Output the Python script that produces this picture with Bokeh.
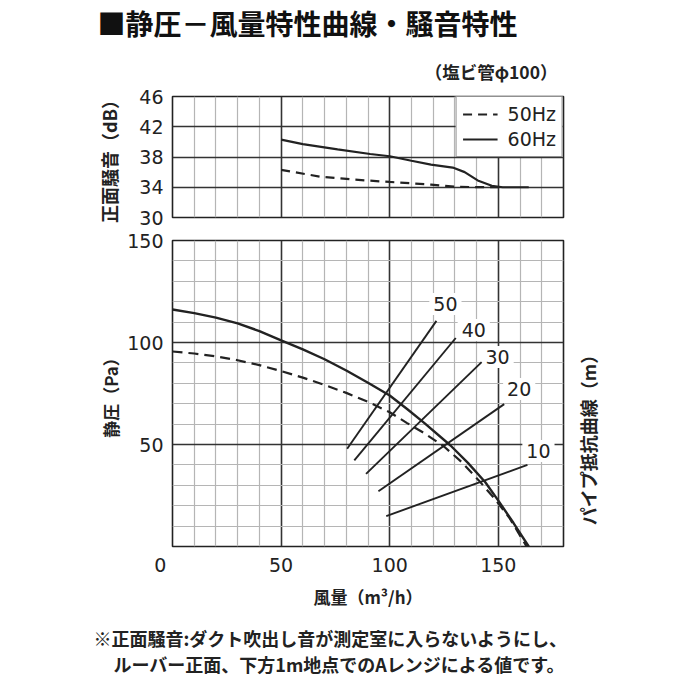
import math
from bokeh.plotting import figure
from bokeh.models import Range1d, FixedTicker, Legend, LegendItem
from bokeh.layouts import column, row
from bokeh.embed import file_html
from bokeh.resources import INLINE
from bokeh.core.properties import value

# ---------------- data ----------------
TITLE = "■静圧－風量特性曲線・騒音特性"
SUBTITLE = "（塩ビ管φ100）"
NOTE_1 = "※正面騒音:ダクト吹出し音が測定室に入らないようにし、"
NOTE_2 = "ルーバー正面、下方1m地点でのAレンジによる値です。"
RIGHT_LABEL = "パイプ抵抗曲線（m）"

# noise (dB) vs airflow (m3/h)
NOISE_X_60 = [50, 60, 76, 91, 100, 110, 119, 129, 134.5, 140.5, 147, 152, 164]
NOISE_DB_60 = [40.3, 39.7, 39.0, 38.4, 38.1, 37.5, 37.0, 36.6, 36.0, 34.9, 34.2, 34.0, 34.0]
NOISE_X_50 = [50, 68, 84, 100, 119, 131, 150]
NOISE_DB_50 = [36.3, 35.4, 35.0, 34.7, 34.35, 34.05, 34.0]

# static pressure (Pa) vs airflow (m3/h)
PQ_X_60 = [0, 10, 20, 30, 40, 50, 60, 70, 80, 90, 100, 108, 116, 128, 136, 144, 150, 157, 164]
PQ_PA_60 = [116.2, 114.4, 112.2, 109.4, 105.6, 101.0, 96.6, 91.8, 86.3, 80.3, 74.0,
            67.4, 60.5, 49.5, 41.0, 31.5, 22.5, 11.5, 0]
PQ_X_50 = [0, 10, 20, 30, 40, 50, 60, 70, 80, 90, 100, 108, 116, 125, 133, 141, 148, 155, 163]
PQ_PA_50 = [95.6, 94.6, 93.2, 91.3, 88.9, 86.0, 82.8, 79.2, 75.3, 70.9, 65.8,
            60.5, 55.5, 49.0, 41.5, 32.4, 23.8, 14.2, 0]

# pipe resistance curves (m)
PIPE_M = ["50", "40", "30", "20", "10"]
PIPE_X0 = [80.4, 83.7, 89.1, 94.8, 98.4]
PIPE_Y0 = [47.9, 42.2, 35.6, 27.1, 14.9]
PIPE_X1 = [121.5, 130.4, 142.3, 152.7, 163.4]
PIPE_Y1 = [110.6, 102.2, 90.4, 69.8, 40.0]

X_TICKS = [0, 50, 100, 150]
DB_TICKS = [30, 34, 38, 42, 46]
PA_TICKS = [50, 100, 150]

# ---------------- styles ----------------
LABEL_DX = [9, 18, 16, 15, 11]
LABEL_DY = [-17, -8, -5, -15, -14]
INK = "#222222"
MAJOR = "#333333"
MINOR = "#b5b5b5"
JP = "Noto Sans CJK JP"
NUM = "DejaVu Sans"
FIG_W = 640
LEFT = 172
FRAME_W = 391

x_major = [0, 50, 100, 150]
x_minor = [v for v in range(10, 180, 10) if v % 50]


def style_axis(ax):
    ax.axis_line_color = None
    ax.major_tick_line_color = None
    ax.minor_tick_line_color = None
    ax.major_tick_out = 0
    ax.major_tick_in = 0
    ax.minor_tick_out = 0
    ax.minor_tick_in = 0
    ax.major_label_text_font = NUM
    ax.major_label_text_font_size = "19px"
    ax.major_label_text_color = INK
    ax.axis_label_text_font = JP
    ax.axis_label_text_font_style = "bold"
    ax.axis_label_text_color = INK


def style_frame(p):
    p.outline_line_color = INK
    p.outline_line_width = 1.6
    p.outline_line_alpha = 1
    p.background_fill_color = "white"
    p.border_fill_color = "white"
    p.xgrid.ticker = FixedTicker(ticks=x_major, minor_ticks=x_minor)
    p.xgrid.grid_line_color = MAJOR
    p.xgrid.grid_line_width = 1.6
    p.xgrid.minor_grid_line_color = MINOR
    p.xgrid.minor_grid_line_width = 1.2


def text_panel(w, h):
    f = figure(width=w, height=h, x_range=Range1d(0, w), y_range=Range1d(0, h),
               output_backend="svg", toolbar_location=None, title=None,
               x_axis_type=None, y_axis_type=None, min_border=0)
    f.frame_align = False
    f.grid.visible = False
    f.outline_line_color = None
    f.background_fill_color = "white"
    f.border_fill_color = "white"
    return f


# ---------------- header ----------------
HDR_H = 84
hdr = text_panel(FIG_W, HDR_H)
hdr.text(x=[97], y=[HDR_H - 22], text=[TITLE], text_font=value(JP), text_font_style="bold",
         text_font_size="28px", text_align="left", text_baseline="middle", text_color="#111111")
hdr.text(x=[557], y=[HDR_H - 71], text=[SUBTITLE], text_font=value(JP), text_font_style="bold",
         text_font_size="17.5px", text_align="right", text_baseline="middle", text_color=INK)

# ---------------- top: noise ----------------
p1 = figure(width=FIG_W, height=144, x_range=Range1d(0, 180), y_range=Range1d(30, 46),
            output_backend="svg", toolbar_location=None, title=None,
            min_border_left=LEFT, min_border_right=FIG_W - LEFT - FRAME_W,
            min_border_top=12, min_border_bottom=11)
style_frame(p1)
p1.xaxis.visible = False
p1.yaxis.ticker = FixedTicker(ticks=DB_TICKS)
style_axis(p1.yaxis[0])
p1.yaxis.major_label_standoff = 9
p1.yaxis.axis_label = "正面騒音（dB）"
p1.yaxis.axis_label_text_font_size = "18px"
p1.yaxis.axis_label_standoff = 14
p1.ygrid.ticker = FixedTicker(ticks=DB_TICKS)
p1.ygrid.grid_line_color = MAJOR
p1.ygrid.grid_line_width = 1.6

r50 = p1.line(NOISE_X_50, NOISE_DB_50, line_color=INK, line_width=2.2, line_dash="9 6")
r60 = p1.line(NOISE_X_60, NOISE_DB_60, line_color=INK, line_width=2.2)

legend = Legend(items=[LegendItem(label="50Hz", renderers=[r50]),
                       LegendItem(label="60Hz", renderers=[r60])],
                location="top_right", margin=0, padding=6, spacing=3,
                glyph_width=35, glyph_height=18, label_height=18, label_standoff=10,
                label_text_font=NUM, label_text_font_size="19px", label_text_color=INK,
                border_line_color=INK, border_line_width=1.6,
                background_fill_color="white", background_fill_alpha=1)
p1.add_layout(legend)

# ---------------- bottom: P-Q ----------------
P2_H = 390
P2_RIGHT = 10
p2 = figure(width=LEFT + FRAME_W + P2_RIGHT, height=P2_H, x_range=Range1d(0, 180), y_range=Range1d(0, 150),
            output_backend="svg", toolbar_location=None, title=None,
            min_border_left=LEFT, min_border_right=P2_RIGHT, min_border_top=12, min_border_bottom=72)
style_frame(p2)
p2.xaxis.ticker = FixedTicker(ticks=X_TICKS)
p2.xaxis.major_label_overrides = {0: "0\u2007\u2007"}
p2.yaxis.ticker = FixedTicker(ticks=PA_TICKS)
style_axis(p2.xaxis[0])
style_axis(p2.yaxis[0])
p2.xaxis.major_label_standoff = 7
p2.xaxis.axis_label = "風量（m³/h）"
p2.xaxis.axis_label_text_font_size = "17px"
p2.xaxis.axis_label_standoff = 5
p2.yaxis.major_label_standoff = 9
p2.yaxis.axis_label = "静圧（Pa）"
p2.yaxis.axis_label_text_font_size = "17px"
p2.yaxis.axis_label_standoff = 1
p2.ygrid.ticker = FixedTicker(ticks=[0, 50, 100, 150],
                              minor_ticks=[v for v in range(10, 150, 10) if v % 50])
p2.ygrid.grid_line_color = MAJOR
p2.ygrid.grid_line_width = 1.6
p2.ygrid.minor_grid_line_color = MINOR
p2.ygrid.minor_grid_line_width = 1.2

p2.text(x=PIPE_X1, y=PIPE_Y1, text=PIPE_M, x_offset=LABEL_DX, y_offset=LABEL_DY,
        text_font=value(NUM), text_font_size="19px", text_color=INK,
        text_align="center", text_baseline="middle",
        background_fill_color="white", padding=4)
p2.segment(x0=PIPE_X0, y0=PIPE_Y0, x1=PIPE_X1, y1=PIPE_Y1, line_color=INK, line_width=1.9)
p2.line(PQ_X_50, PQ_PA_50, line_color=INK, line_width=2.2, line_dash="10 6")
p2.line(PQ_X_60, PQ_PA_60, line_color=INK, line_width=2.4)

# right side label panel
SIDE_W = 40
side = text_panel(SIDE_W, P2_H)
side.text(x=[14], y=[P2_H - (435 - 228)], text=[RIGHT_LABEL], angle=math.pi / 2,
          text_font=value(JP), text_font_style="bold", text_font_size="18px",
          text_align="center", text_baseline="middle", text_color=INK)

# ---------------- footer ----------------
FTR_H = 72
ftr = text_panel(FIG_W, FTR_H)
ftr.text(x=[93, 113], y=[FTR_H - 19, FTR_H - 45], text=[NOTE_1, NOTE_2],
         text_font=value(JP), text_font_style="bold", text_font_size="18px",
         text_align="left", text_baseline="middle", text_color=INK)

layout = column(hdr, p1, row(p2, side, spacing=0), ftr, spacing=0)
open("out.html", "w").write(file_html(layout, INLINE))
